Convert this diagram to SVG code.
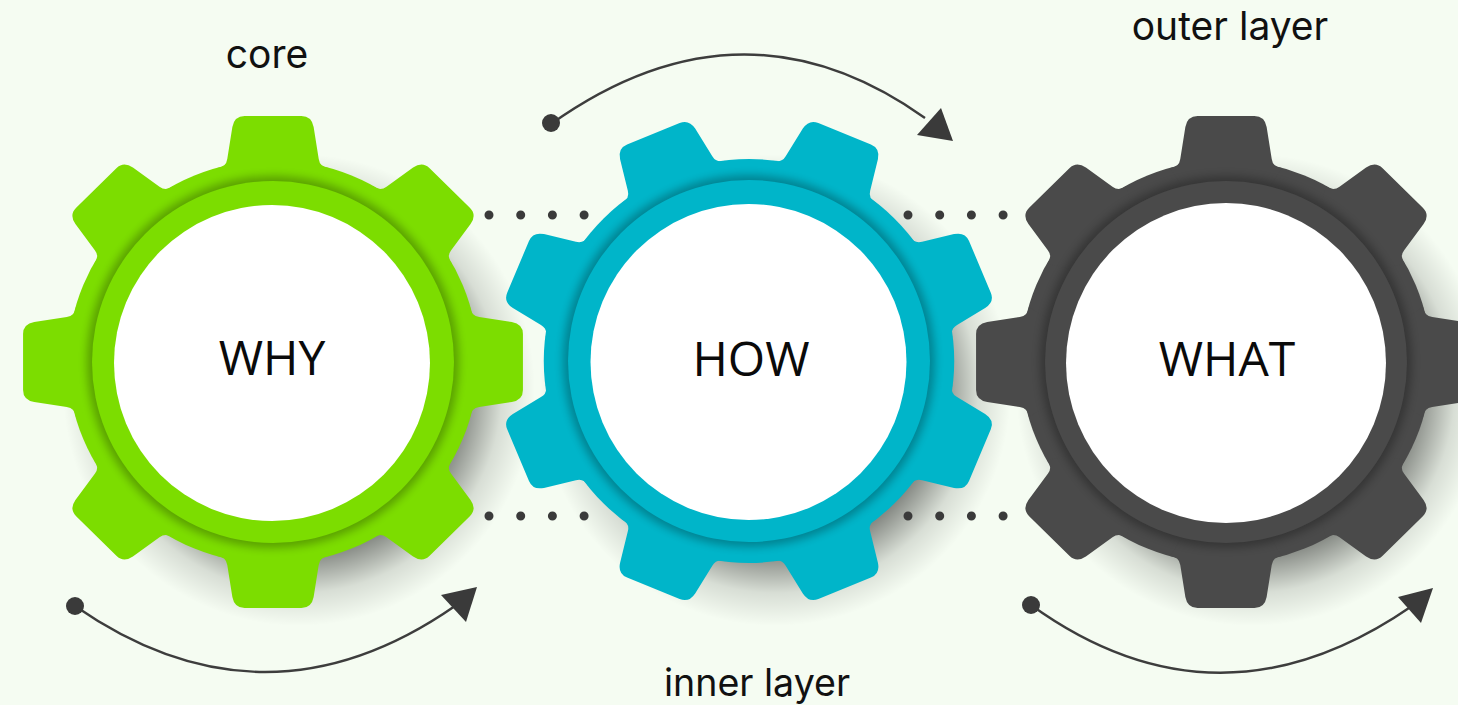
<svg xmlns="http://www.w3.org/2000/svg" width="1458" height="705" viewBox="0 0 1458 705">
<style>
.lbl{font-family:Inter,"Liberation Sans",sans-serif;font-size:39px;fill:#111;text-anchor:middle}
.ttl{font-family:"Open Sans","Liberation Sans",sans-serif;font-size:48px;fill:#0a0a0a;text-anchor:middle}
.curve{fill:none;stroke:#3d3d3d;stroke-width:2.4}
.dots{fill:none;stroke:#3a3a3a;stroke-width:9;stroke-linecap:round;stroke-dasharray:0 31.7}
.ink{fill:#3a3a3a}
.ringshade{fill:#000;opacity:.27;filter:url(#soft)}
.shadow{fill:url(#sh)}
.white{fill:#fff}
</style>
<defs>
<filter id="soft" x="-10%" y="-10%" width="120%" height="120%"><feGaussianBlur stdDeviation="4"/></filter>
<radialGradient id="sh"><stop offset=".7" stop-color="#000" stop-opacity=".45"/><stop offset=".86" stop-color="#000" stop-opacity=".12"/><stop offset="1" stop-color="#000" stop-opacity="0"/></radialGradient>
<path id="tooth" d="M-55,-194 Q-46,-195 -45,-203 L-40,-235 Q-38,-246 -28,-246 L28,-246 Q38,-246 40,-235 L45,-203 Q46,-195 55,-194 L40,-170 L-40,-170Z"/>
<g id="gear">
<circle r="202"/>
<use href="#tooth"/><use href="#tooth" transform="rotate(45)"/><use href="#tooth" transform="rotate(90)"/><use href="#tooth" transform="rotate(135)"/><use href="#tooth" transform="rotate(180)"/><use href="#tooth" transform="rotate(225)"/><use href="#tooth" transform="rotate(270)"/><use href="#tooth" transform="rotate(315)"/>
</g>
</defs>
<rect width="1458" height="705" fill="#F5FCF2"/>
<g id="shadows">
<circle class="shadow" cx="299" cy="390" r="236"/>
<circle class="shadow" cx="775" cy="390" r="236"/>
<circle class="shadow" cx="1252" cy="390" r="236"/>
</g>
<g id="connectors">
<path class="dots" d="M489,215H590M908,215H1008M489,516H590M908,516H1008"/>
<path class="curve" d="M551,124Q742,-12 925,118"/>
<circle class="ink" cx="551" cy="123" r="9"/>
<polygon class="ink" points="941,108 953,141 917,135"/>
<path class="curve" d="M75,606Q265,738 455,606"/>
<circle class="ink" cx="75" cy="606" r="9"/>
<polygon class="ink" points="477,587 441,595 466,622"/>
<path class="curve" d="M1031,605Q1218,740 1412,606"/>
<circle class="ink" cx="1031" cy="605" r="9"/>
<polygon class="ink" points="1433,588 1398,597 1421,623"/>
</g>
<g id="why">
<use href="#gear" transform="translate(273,362) scale(1.016,1)" fill="#7CDD00"/>
<circle class="ringshade" cx="273" cy="362" r="186"/>
<circle cx="273" cy="362" r="181" fill="#7CDD00"/>
<circle class="white" cx="272" cy="363" r="158"/>
<text class="ttl" x="272" y="375">WHY</text>
</g>
<g id="how">
<use href="#gear" transform="translate(749,361) scale(1.016,1) rotate(22.5)" fill="#00B5C9"/>
<circle class="ringshade" cx="749" cy="361" r="186"/>
<circle cx="749" cy="361" r="181" fill="#00B5C9"/>
<circle class="white" cx="748.500" cy="362" r="158"/>
<text class="ttl" x="751" y="376">HOW</text>
</g>
<g id="what">
<use href="#gear" transform="translate(1226,362) scale(1.016,1)" fill="#4A4A4A"/>
<circle class="ringshade" cx="1226" cy="362" r="186"/>
<circle cx="1226" cy="362" r="181" fill="#4A4A4A"/>
<circle class="white" cx="1226" cy="363" r="160"/>
<text class="ttl" x="1227" y="376">WHAT</text>
</g>
<text class="lbl" x="267" y="68">core</text>
<text class="lbl" x="1230" y="40">outer layer</text>
<text class="lbl" x="757" y="696" style="font-size:37.600px">inner layer</text>
</svg>
